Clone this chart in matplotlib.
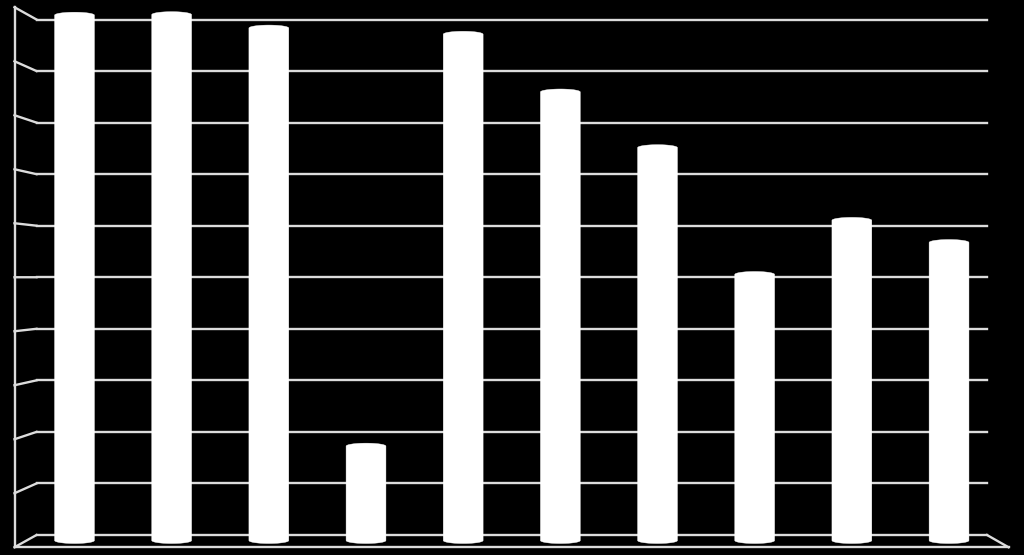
import matplotlib
matplotlib.use("Agg")
import matplotlib.pyplot as plt
from matplotlib.patches import Polygon
import numpy as np

# ---- data (values in gridline units; 10 gridline steps) ----
categories = ["1", "2", "3", "4", "5", "6", "7", "8", "9", "10"]
values = [10.19, 10.20, 9.94, 1.83, 9.82, 8.70, 7.62, 5.16, 6.21, 5.78]
grid_levels = list(range(0, 11))

W, H = 1024, 555
fig = plt.figure(figsize=(W / 100, H / 100), dpi=100, facecolor="black")
ax = fig.add_axes([0, 0, 1, 1])
ax.set_facecolor("black")
ax.axis("off")

# pixel <-> data mapping
X0, DX = 74.5, 97.17      # center of first bar, spacing in px
Y0, DY = 540.5, 51.55     # baseline (mid-depth) px, px per unit
def cx(px):
    return (px - X0) / DX
def vy(py):
    return (Y0 - py) / DY

ax.set_xlim(cx(0), cx(W))
ax.set_ylim(vy(H), vy(0))

line_kw = dict(color="#dcdcdc", lw=1.7, solid_capstyle="projecting", zorder=1)

# 3D frame: back wall gridlines with perspective side diagonals
back_left, back_right = 36.5, 987
front_left, front_right = 14.5, 1008.5
horizon, scale = 277.3, 1.0475
for k in grid_levels:
    yb = 535.0 - DY * k
    yf = horizon + scale * (yb - horizon)
    ax.plot([cx(back_left), cx(back_right)], [vy(yb), vy(yb)], **line_kw)
    ax.plot([cx(front_left), cx(back_left)], [vy(yf), vy(yb)], **line_kw)
# front vertical edge
ytop_f = horizon + scale * ((535.0 - DY * 10) - horizon)
ybot_f = horizon + scale * (535.0 - horizon)
ax.plot([cx(front_left), cx(front_left)], [vy(ytop_f), vy(ybot_f)], **line_kw)
# floor front edge and right diagonal
ax.plot([cx(front_left), cx(front_right)], [vy(ybot_f), vy(ybot_f)], **line_kw)
ax.plot([cx(back_right), cx(front_right)], [vy(535.0), vy(ybot_f)], **line_kw)

# cylinder bars, each drawn as one outline (sides + elliptical ends)
x = np.arange(len(categories))
bw = 0.41
eh = 6.0 / DY
t_bot = np.linspace(np.pi, 2 * np.pi, 40)   # lower half of bottom ellipse
t_top = np.linspace(0, np.pi, 40)           # upper half of top ellipse
for xi, v in zip(x, values):
    bx = xi + bw / 2 * np.cos(t_bot)
    by = 0 + eh / 2 * np.sin(t_bot)
    tx = xi + bw / 2 * np.cos(t_top)
    ty = v + eh / 2 * np.sin(t_top)
    pts = np.column_stack([np.concatenate([bx, tx]), np.concatenate([by, ty])])
    ax.add_patch(Polygon(pts, closed=True, facecolor="white", edgecolor="white",
                         lw=0.3, zorder=3))

fig.savefig("out.png", dpi=100, facecolor="black")
